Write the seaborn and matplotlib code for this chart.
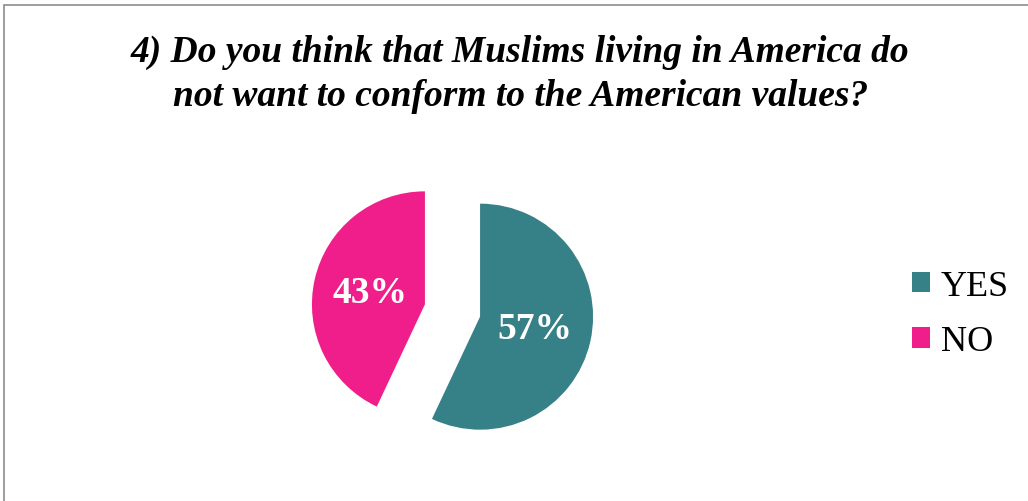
import matplotlib
matplotlib.use("Agg")
import matplotlib.pyplot as plt
from matplotlib.patches import Rectangle
import seaborn as sns

# Survey answers
answers = ["YES", "NO"]
shares = [57, 43]
slice_colors = ["#368088", "#F01E8A"]
title_text = "4) Do you think that Muslims living in America do\nnot want to conform to the American values?"

sns.set_theme(style="white")
plt.rcParams["font.family"] = ["Liberation Serif", "DejaVu Serif"]
plt.rcParams["text.color"] = "black"

W, H = 1028, 502
fig = plt.figure(figsize=(W / 100, H / 100), dpi=100)
fig.patch.set_facecolor("white")

# Thin gray frame along the top and left edges
fig.patches.append(Rectangle((4 / W, -0.1), 1.2, (H - 6) / H + 0.1, transform=fig.transFigure,
                             fill=False, edgecolor="#8c8c8c", linewidth=1.2, zorder=0))

# Pie axes: radius 1 maps to ~113 px
cx, cy, half = 452.5, 311.5, 226
ax = fig.add_axes([(cx - half) / W, (H - cy - half) / H, 2 * half / W, 2 * half / H])
wedges, texts, autotexts = ax.pie(
    shares, colors=slice_colors, startangle=90, counterclock=False,
    explode=[0.25, 0.25], autopct="%1.0f%%", pctdistance=0.5,
    textprops=dict(color="white", fontsize=27, fontweight="bold"),
    wedgeprops=dict(linewidth=0),
)
ax.set_xlim(-2, 2)
ax.set_ylim(-2, 2)
ax.set_aspect("equal")
ax.axis("off")

fig.text(0.506, 0.93, title_text, ha="center", va="top", fontsize=27, color="black",
         fontweight="bold", fontstyle="italic", linespacing=1.32)

leg = fig.legend(wedges, answers, loc="center left", bbox_to_anchor=(894 / W, 1 - 315 / H),
                 frameon=False, fontsize=26, handlelength=0.5, handleheight=0.5,
                 handletextpad=0.3, labelspacing=0.62, borderpad=0)
for t in leg.get_texts():
    t.set_color("black")

fig.savefig("out.png", dpi=100, facecolor="white")
